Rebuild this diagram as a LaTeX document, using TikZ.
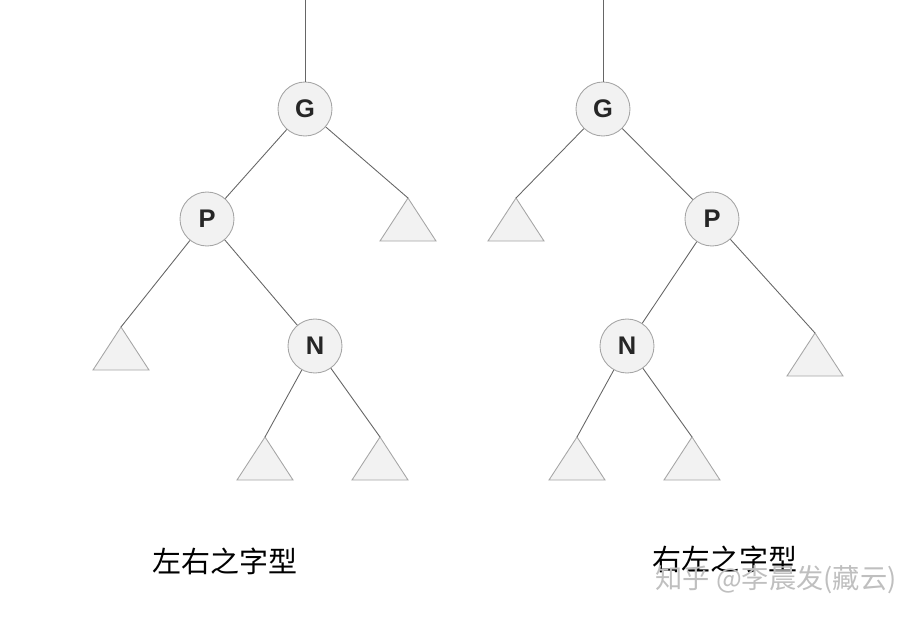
\documentclass[tikz,border=0pt]{standalone}
\usepackage{fontspec}
\setsansfont{Liberation Sans}
\newfontfamily\cjk{Noto Sans CJK SC}
\usetikzlibrary{calc}

\tikzset{
  vtx/.style={circle,draw=gray!70,fill=gray!10,line width=0.5pt,minimum size=10.8mm,inner sep=0pt,font=\sffamily\bfseries\fontsize{14.5}{14.5}\selectfont,text=black!85},
  edg/.style={line width=0.5pt,draw=black!60},
  tri/.style={line width=0.5pt,draw=gray!70,fill=gray!10},
  caption/.style={font=\cjk\fontsize{16.5}{16.5}\selectfont}
}

\begin{document}
\begin{tikzpicture}[x=0.2mm,y=-0.2mm]
\useasboundingbox (0,0) rectangle (923,618);

%% left tree: vertices
\coordinate (lroot) at (305,0);
\node[vtx] (lG) at (305,109) {G};
\node[vtx] (lP) at (207,219) {P};
\node[vtx] (lN) at (315,346) {N};
\coordinate (lt1) at (408,198);
\coordinate (lt2) at (121,327);
\coordinate (lt3) at (265,437);
\coordinate (lt4) at (380,437);

%% left tree: subtrees
\foreach \t in {lt1,lt2,lt3,lt4}
  \draw[tri] (\t) -- ++(-28,43) -- ++(56,0) -- cycle;

%% left tree: edges
\draw[edg] (lroot) -- (lG);
\draw[edg] (lG) -- (lP);
\draw[edg] (lG) -- (lt1);
\draw[edg] (lP) -- (lt2);
\draw[edg] (lP) -- (lN);
\draw[edg] (lN) -- (lt3);
\draw[edg] (lN) -- (lt4);

%% right tree: vertices
\coordinate (rroot) at (603,0);
\node[vtx] (rG) at (603,109) {G};
\node[vtx] (rP) at (712,219) {P};
\node[vtx] (rN) at (627,346) {N};
\coordinate (rt1) at (516,198);
\coordinate (rt2) at (815,333);
\coordinate (rt3) at (577,437);
\coordinate (rt4) at (692,437);

%% right tree: subtrees
\foreach \t in {rt1,rt2,rt3,rt4}
  \draw[tri] (\t) -- ++(-28,43) -- ++(56,0) -- cycle;

%% right tree: edges
\draw[edg] (rroot) -- (rG);
\draw[edg] (rG) -- (rt1);
\draw[edg] (rG) -- (rP);
\draw[edg] (rP) -- (rN);
\draw[edg] (rP) -- (rt2);
\draw[edg] (rN) -- (rt3);
\draw[edg] (rN) -- (rt4);

%% captions
\node[caption] (lcap) at (225,561) {左右之字型};
\node[caption] (rcap) at (725,559) {右左之字型};
\node[font=\cjk\fontsize{15.5}{15.5}\selectfont,text=gray!50] (mark) at (776,580) {知乎 @李晨发(藏云)};
\end{tikzpicture}
\end{document}
